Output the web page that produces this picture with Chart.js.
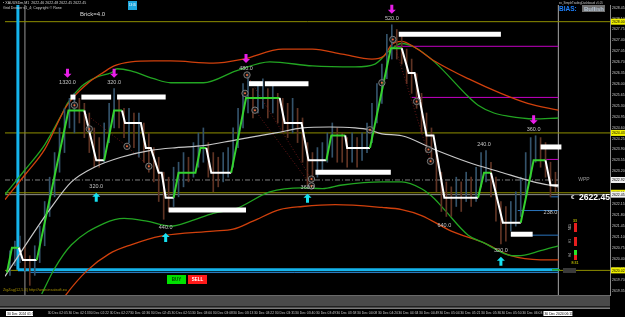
<!DOCTYPE html>
<html>
<head>
<meta charset="utf-8">
<script src="https://cdn.jsdelivr.net/npm/chart.js@4"></script>
<style>
  html, body { margin: 0; padding: 0; background: #000; }
</style>
</head>
<body>
<canvas id="myChart" width="625" height="317"></canvas>
<script>
  // ---- data (x = bar number, y = price) ----
  const priceTicks = [2628.45, 2628.10, 2627.75, 2627.40, 2627.05, 2626.70, 2626.35, 2626.00, 2625.65,
    2625.30, 2624.95, 2624.60, 2624.25, 2623.90, 2623.55, 2623.20, 2622.85, 2622.50, 2622.15,
    2621.80, 2621.45, 2621.10, 2620.75, 2620.40, 2620.05, 2619.70, 2619.35];

  const timeTickPos = [8.6, 12.8, 16.9, 21.1, 25.2, 29.4, 33.6, 37.7, 41.9, 46.0, 50.2, 54.4,
    58.5, 62.7, 66.8, 71.0, 75.2, 79.3, 83.5, 87.6, 91.8, 96.0, 100.1, 104.3];
  const timeLabels = ['30 Dec 02:05', '30 Dec 02:13', '30 Dec 02:22', '30 Dec 02:27', '30 Dec 02:36',
    '30 Dec 02:45', '30 Dec 02:51', '30 Dec 03:00', '30 Dec 03:08', '30 Dec 03:13', '30 Dec 03:22',
    '30 Dec 03:31', '30 Dec 03:40', '30 Dec 03:49', '30 Dec 03:58', '30 Dec 04:08', '30 Dec 04:20',
    '30 Dec 04:34', '30 Dec 04:49', '30 Dec 05:04', '30 Dec 05:21', '30 Dec 05:36', '30 Dec 05:50',
    '30 Dec 06:03'];

  const renkoX = [0.4, 1.4, 2.8, 3.6, 6.4, 12.8, 16, 18.4, 20, 22, 23.6, 24.2, 27.4, 28.4, 29.4, 31,
    31.6, 32.4, 34, 35, 38.4, 39.4, 40.6, 41.6, 45.6, 48.6, 55.4, 56.4, 59.8, 61.2, 64.8, 65.8, 68.6,
    69, 73.6, 77.8, 80, 81.4, 82.6, 85, 86.4, 88.6, 95.4, 96.6, 98, 100.4, 104, 106.6, 109, 110, 111.6];
  const renkoY = [2619.95, 2620.75, 2620.75, 2620.35, 2620.35, 2625.15, 2625.15, 2623.55, 2623.55,
    2625.15, 2625.15, 2624.75, 2624.75, 2623.95, 2623.95, 2623.15, 2623.15, 2622.35, 2622.35, 2623.15,
    2623.15, 2623.95, 2623.95, 2623.15, 2623.15, 2625.55, 2625.55, 2624.75, 2624.75, 2623.55, 2623.55,
    2624.35, 2624.35, 2623.95, 2623.95, 2627.15, 2627.15, 2626.35, 2626.35, 2624.35, 2624.35, 2622.35,
    2622.35, 2623.15, 2623.15, 2621.55, 2621.55, 2623.55, 2623.55, 2622.75, 2622.75];

  const candleHigh = [2620.65, 2620.96, 2621.12, 2620.81, 2620.49, 2620.81, 2621.44, 2622.23, 2623.01, 2623.80,
    2624.59, 2625.22, 2625.54, 2625.70, 2625.54, 2625.38, 2625.07, 2624.59, 2624.28, 2624.75,
    2625.38, 2625.85, 2625.54, 2625.22, 2625.22, 2625.07, 2625.07, 2624.75, 2624.43, 2623.96,
    2623.65, 2623.17, 2623.01, 2623.33, 2623.49, 2623.80, 2623.65, 2624.12, 2624.43, 2624.59,
    2624.12, 2623.80, 2623.65, 2623.80, 2623.96, 2624.59, 2625.22, 2626.01, 2626.33, 2625.85,
    2626.01, 2626.17, 2625.85, 2626.01, 2625.70, 2625.54, 2625.38, 2625.54, 2625.22, 2624.91,
    2624.12, 2623.80, 2623.96, 2624.12, 2624.43, 2624.75, 2624.59, 2624.43, 2624.28, 2624.43,
    2624.28, 2624.43, 2624.75, 2625.38, 2626.01, 2626.64, 2627.59, 2627.90, 2627.75, 2627.59,
    2627.12, 2626.80, 2626.33, 2625.70, 2625.07, 2624.59, 2623.80, 2623.17, 2622.86, 2622.70,
    2623.01, 2622.86, 2623.17, 2623.01, 2623.33, 2623.80, 2623.86, 2623.49, 2623.01, 2622.23,
    2622.07, 2622.23, 2622.54, 2623.01, 2623.80, 2624.28, 2624.34, 2624.28, 2624.12, 2623.49,
    2623.17];
  const candleLow = [2619.86, 2620.17, 2620.27, 2620.02, 2619.54, 2619.86, 2620.27, 2620.81, 2621.75, 2622.38,
    2623.17, 2623.80, 2624.59, 2624.43, 2624.75, 2624.28, 2623.80, 2623.33, 2623.33, 2623.49,
    2624.12, 2624.59, 2624.59, 2624.28, 2624.12, 2623.96, 2623.65, 2623.49, 2623.17, 2622.86,
    2622.23, 2621.66, 2621.91, 2622.07, 2622.38, 2622.70, 2622.86, 2623.01, 2623.33, 2623.49,
    2623.01, 2622.54, 2622.70, 2622.86, 2623.01, 2623.33, 2623.96, 2624.59, 2625.07, 2624.91,
    2625.07, 2625.22, 2624.91, 2625.07, 2624.75, 2624.43, 2624.28, 2624.43, 2624.12, 2623.49,
    2622.76, 2622.86, 2623.01, 2623.17, 2623.49, 2623.65, 2623.49, 2623.49, 2623.33, 2623.49,
    2623.33, 2623.55, 2623.80, 2624.12, 2624.75, 2625.38, 2626.17, 2626.80, 2626.80, 2626.64,
    2626.01, 2625.70, 2625.22, 2624.43, 2623.80, 2623.49, 2622.54, 2621.91, 2621.75, 2621.75,
    2622.07, 2621.91, 2622.23, 2622.07, 2622.23, 2622.70, 2622.86, 2622.38, 2621.60, 2620.87,
    2620.96, 2621.28, 2621.44, 2621.75, 2622.38, 2623.01, 2623.49, 2623.33, 2623.01, 2622.38,
    2622.54];

  const upperRedX = [0, 4, 8, 12.4, 16.6, 20, 22, 25.4, 30, 33.4, 42, 48, 56, 62, 68, 74, 76.4, 78, 80,
    82.6, 86.6, 93.4, 100, 105.4, 111.6];
  const upperRedY = [2622.29, 2623.08, 2623.90, 2625.29, 2626.01, 2626.39, 2626.58, 2626.71, 2626.74,
    2626.74, 2626.67, 2626.80, 2627.12, 2627.12, 2626.96, 2626.80, 2626.90, 2627.27, 2627.37, 2627.18,
    2626.74, 2626.17, 2625.70, 2625.38, 2625.16];
  const upperGreenX = [0, 4, 8, 11.6, 12.6, 15.4, 18.6, 21.4, 22.6, 25.4, 30, 33.4, 40, 46.6, 53.4, 62,
    70.6, 74.6, 77.4, 80, 82.6, 86.6, 93.4, 95.4, 98.6, 101.4, 106.6, 111.6];
  const upperGreenY = [2622.45, 2623.24, 2624.05, 2625.07, 2625.38, 2625.92, 2626.23, 2626.36, 2626.49,
    2626.42, 2626.17, 2626.04, 2626.04, 2626.42, 2626.71, 2626.58, 2626.55, 2626.64, 2627.05, 2627.30,
    2627.18, 2626.71, 2625.60, 2625.32, 2625.07, 2624.97, 2624.88, 2624.91];
  const lowerGreenX = [7.4, 10, 13.4, 20, 24, 28.6, 33.4, 37.4, 42, 46.6, 53.4, 60, 64, 68, 76, 80, 84,
    86.6, 88.6, 93.4, 96.6, 101.4, 103.4, 108, 111.6];
  const lowerGreenY = [2619.26, 2620.08, 2620.84, 2621.53, 2621.69, 2621.60, 2621.44, 2621.60, 2621.85,
    2622.00, 2622.54, 2622.67, 2622.64, 2622.76, 2622.86, 2622.86, 2622.64, 2622.32, 2621.97, 2621.15,
    2620.90, 2620.52, 2620.49, 2620.65, 2620.81];
  const lowerRedX = [11.6, 12.4, 16.6, 21, 25.4, 31.4, 42, 46, 50, 55.4, 60, 66.6, 76, 80, 84, 90, 96.6,
    102, 108, 111.6];
  const lowerRedY = [2619.07, 2619.26, 2620.02, 2620.55, 2620.84, 2621.12, 2621.28, 2621.34, 2621.60,
    2621.97, 2622.07, 2622.13, 2622.04, 2621.97, 2621.78, 2621.28, 2620.90, 2620.49, 2620.36, 2620.36];
  const maX = [0, 9, 13.4, 18, 23.4, 29.4, 34.6, 40, 46.6, 54.6, 60, 65.4, 70.6, 73.4, 76, 80, 86.6,
    93.4, 100, 106.6, 111.6];
  const maY = [2619.83, 2621.97, 2622.86, 2623.33, 2623.65, 2623.87, 2623.96, 2624.02, 2624.21, 2624.43,
    2624.59, 2624.62, 2624.59, 2624.53, 2624.40, 2624.34, 2623.90, 2623.49, 2623.17, 2622.86, 2622.70];

  const oliveLevels = [2628.00, 2624.43, 2622.51, 2620.02];
  const bidPrice = 2622.45;
  const wppPrice = 2622.92;
  const cyanLevel = 2620.04;
  const blueLevel = 2619.95;
  const magentaLevels = [2627.21, 2625.57, 2623.58];
  const magentaFrom = [78.4, 82, 108.6];
  const blueShortLevels = [2621.94, 2621.15, 2622.38];
  const blueShortFrom = [103.4, 102, 110];
  const lastBar = 111.6;
  const cyanVerticalBar = 2.6;
  const greyVerticalBar = 4;

  const boxFrom = [13.2, 15.4, 22.6, 49.2, 52.4, 79.4, 33, 62.6, 108, 102];
  const boxTo = [14.2, 21.4, 32.4, 52, 61.2, 100, 48.6, 77.8, 112.2, 106.4];
  const boxPrice = [2625.58, 2625.58, 2625.58, 2626.01, 2626.01, 2627.60, 2621.96, 2623.17, 2623.98, 2621.18];

  const downArrowX = [12.6, 22, 48.6, 78, 106.6];
  const downArrowY = [2626.33, 2626.33, 2626.80, 2628.38, 2624.84];
  const downLabels = ['1320.0', '320.0', '480.0', '520.0', '360.0'];
  const upArrowX = [18.4, 32.4, 61, 100];
  const upArrowY = [2622.38, 2621.09, 2622.35, 2620.33];
  const upLabels = ['320.0', '440.0', '360.0', '320.0'];
  const extraLabelX = [96.6, 88.6, 110];
  const extraLabelY = [2624.05, 2621.47, 2621.88];
  const extraLabels = ['240.0', '640.0', '238.0'];

  const circleX = [14, 17, 24.6, 29, 48.8, 48.4, 50.4, 76, 78.2, 61.8, 61.8, 73.6, 83, 85.4, 85.8];
  const circleY = [2625.32, 2624.56, 2624.00, 2623.36, 2626.29, 2625.70, 2625.16, 2626.04, 2627.43,
    2622.95, 2622.73, 2624.53, 2625.44, 2623.90, 2623.52];

  const dotX = [14, 24.6, 29, 29, 48.8, 61.8, 61.8, 50.4, 61.8, 61.8, 78.2, 85.8];
  const dotY = [2625.32, 2624.00, 2623.36, null, 2626.29, 2622.95, null, 2625.16, 2622.73, null, 2627.43, 2623.52];

  // ---- helpers ----
  const GREEN = '#35d22f', WHITE = '#ffffff';
  const pts = (xs, ys) => xs.map((x, i) => ({ x: x, y: ys[i] }));

  function hline(p, x0, x1, color, width, dash, order) {
    return { type: 'line', data: [{ x: x0, y: p }, { x: x1, y: p }], borderColor: color,
      borderWidth: width, borderDash: dash || [], pointRadius: 0, order: order };
  }

  function renkoColor(i) {
    for (let k = i; k > 0; k--) {
      if (renkoY[k] > renkoY[k - 1]) return GREEN;
      if (renkoY[k] < renkoY[k - 1]) return WHITE;
    }
    return GREEN;
  }

  const datasets = [];
  oliveLevels.forEach(p => datasets.push(hline(p, 0, 122, '#8f8f00', 1, [], 30)));
  datasets.push(hline(bidPrice, 0, 122, '#8f8f8f', 1, [], 30));
  datasets.push(hline(wppPrice, 0, lastBar, '#808080', 1, [5, 2, 1, 2], 30));
  datasets.push(hline(cyanLevel, cyanVerticalBar, lastBar, '#14b4ec', 3, [], 29));
  datasets.push(hline(blueLevel, 5, lastBar, '#2a7fc8', 1, [], 29));
  magentaLevels.forEach((p, i) => datasets.push(hline(p, magentaFrom[i], lastBar, '#c400c4', 1, [], 28)));
  blueShortLevels.forEach((p, i) => datasets.push(hline(p, blueShortFrom[i], lastBar, '#2a74bc', 1, [], 28)));
  datasets.push({ type: 'line', data: [{ x: cyanVerticalBar, y: 2629 }, { x: cyanVerticalBar, y: cyanLevel }],
    borderColor: '#14b4ec', borderWidth: 3, pointRadius: 0, order: 29 });
  datasets.push({ type: 'line', data: [{ x: greyVerticalBar, y: 2629 }, { x: greyVerticalBar, y: 2619 }],
    borderColor: '#5c5c5c', borderWidth: 1, pointRadius: 0, order: 30 });
  datasets.push({ type: 'line', data: [{ x: lastBar, y: 2629 }, { x: lastBar, y: 2619 }],
    borderColor: '#8c8c8c', borderWidth: 1, pointRadius: 0, order: 30 });

  const band = (xs, ys, color) => ({ type: 'line', data: pts(xs, ys), borderColor: color, borderWidth: 1.3,
    pointRadius: 0, cubicInterpolationMode: 'monotone', order: 20 });
  datasets.push(band(upperRedX, upperRedY, '#d0400c'));
  datasets.push(band(upperGreenX, upperGreenY, '#22a522'));
  datasets.push(band(lowerGreenX, lowerGreenY, '#22a522'));
  datasets.push(band(lowerRedX, lowerRedY, '#d0400c'));

  datasets.push({ type: 'bar', data: candleHigh.map((h, i) => ({ x: i + 1, y: [candleLow[i], h] })),
    barThickness: 1, grouped: false, borderWidth: 0, order: 18,
    backgroundColor: c => (c.dataIndex > 0 && candleHigh[c.dataIndex] < candleHigh[c.dataIndex - 1]) ? '#603424' : '#34536b' });

  datasets.push({ type: 'line', data: pts(dotX, dotY), borderColor: '#6a1818', borderWidth: 1,
    borderDash: [1, 2], pointRadius: 0, spanGaps: false, order: 16 });

  datasets.push({ type: 'line', data: pts(maX, maY), borderColor: '#c8c8c8', borderWidth: 1.2,
    pointRadius: 0, cubicInterpolationMode: 'monotone', order: 15 });

  datasets.push({ type: 'line', data: pts(renkoX, renkoY), borderWidth: 2, pointRadius: 0,
    borderColor: GREEN, segment: { borderColor: c => renkoColor(c.p1DataIndex) }, order: 6 });

  boxFrom.forEach((x0, i) => datasets.push({ type: 'line',
    data: [{ x: x0, y: boxPrice[i] }, { x: boxTo[i], y: boxPrice[i] }],
    borderColor: '#ffffff', borderWidth: 5, borderCapStyle: 'butt', pointRadius: 0, order: 4 }));

  datasets.push({ type: 'line', data: pts(circleX, circleY), showLine: false, pointRadius: 3.2,
    pointBorderWidth: 1, pointBorderColor: '#7a7a7a', pointBackgroundColor: 'rgba(30,30,30,0.6)', order: 3 });
  datasets.push({ type: 'line', data: pts(circleX, circleY), showLine: false, pointRadius: 1,
    pointBorderWidth: 0, pointBackgroundColor: '#f06a3c', order: 2 });

  // ---- drawing of the terminal decorations ----
  function arrow(ctx, x, y, dir, color) {
    // (x, y) is the arrow centre, dir 1 = pointing down, -1 = pointing up
    const t = y + 4 * dir;
    ctx.fillStyle = color;
    ctx.beginPath();
    ctx.moveTo(x, t);
    ctx.lineTo(x - 4, t - 4 * dir);
    ctx.lineTo(x - 1.5, t - 4 * dir);
    ctx.lineTo(x - 1.5, t - 9 * dir);
    ctx.lineTo(x + 1.5, t - 9 * dir);
    ctx.lineTo(x + 1.5, t - 4 * dir);
    ctx.lineTo(x + 4, t - 4 * dir);
    ctx.closePath();
    ctx.fill();
  }

  function text(ctx, s, x, y, font, color, align) {
    ctx.font = font;
    ctx.fillStyle = color;
    ctx.textAlign = align || 'left';
    ctx.textBaseline = 'middle';
    ctx.fillText(s, x, y);
  }

  const FONT = '"Liberation Sans", Arial, sans-serif';

  const terminal = {
    id: 'terminal',
    beforeDraw(chart) {
      const c = chart.ctx;
      c.save();
      c.fillStyle = '#000';
      c.fillRect(0, 0, chart.width, chart.height);
      c.restore();
    },
    afterDraw(chart) {
      const c = chart.ctx, xs = chart.scales.x, ys = chart.scales.y;
      const X = v => xs.getPixelForValue(v), Y = v => ys.getPixelForValue(v);
      c.save();

      // grey strip under the price area
      const top = xs.top;
      c.fillStyle = '#4a4a4a';
      c.fillRect(0, top, xs.right, 14);
      c.fillStyle = '#6a6a6a'; c.fillRect(0, top, xs.right, 1);
      c.fillStyle = '#202020'; c.fillRect(0, top + 11, xs.right, 1);
      c.fillStyle = '#7a7a7a'; c.fillRect(0, top + 13, xs.right, 1);

      // highlighted time labels
      c.fillStyle = '#ffffff';
      c.fillRect(6, top + 16, 27, 5);
      text(c, '30 Dec 2024 01:51', 7, top + 18.6, '3.4px ' + FONT, '#000');
      c.fillStyle = '#ffffff';
      c.fillRect(X(lastBar) - 15, top + 16, 29, 5);
      text(c, '30 Dec 2024 06:11', X(lastBar) - 14, top + 18.6, '3.4px ' + FONT, '#000');

      // zigzag arrows and values
      downArrowX.forEach((b, i) => {
        const x = X(b), y = Y(downArrowY[i]);
        arrow(c, x, y, 1, '#e81ee8');
        text(c, downLabels[i], x, y + 9, '5.5px ' + FONT, '#c4c4c4', 'center');
      });
      upArrowX.forEach((b, i) => {
        const x = X(b), y = Y(upArrowY[i]);
        arrow(c, x, y, -1, '#16e0f0');
        text(c, upLabels[i], x, y - 10, '5.5px ' + FONT, '#c4c4c4', 'center');
      });
      extraLabelX.forEach((b, i) => {
        text(c, extraLabels[i], X(b), Y(extraLabelY[i]), '5.5px ' + FONT, '#c4c4c4', 'center');
      });

      // price axis markers
      const right = ys.left + 1;
      oliveLevels.forEach(p => {
        const y = Y(p);
        c.fillStyle = '#f0f000';
        c.fillRect(right, y - 3, 14, 6);
        text(c, p.toFixed(2), right + 1, y + 0.3, '3.5px ' + FONT, '#000');
      });
      [wppPrice, bidPrice].forEach(p => {
        const y = Y(p);
        c.fillStyle = '#f0f0f0';
        c.fillRect(right, y - 3, 14, 6);
        text(c, p.toFixed(2), right + 1, y + 0.3, '3.5px ' + FONT, '#000');
      });
      text(c, 'WPP', 584, Y(wppPrice), '5px ' + FONT, '#9a9a9a', 'center');

      // header texts
      text(c, '\u25aa XAUUSDm,M1  2622.46 2622.48 2622.45 2622.45', 3, 3, '3.6px ' + FONT, '#d0d0d0');
      text(c, 'Grid Drawer v1_4; Copyright \u00a9 Rone', 3, 8, '3.6px ' + FONT, '#d0d0d0');
      text(c, 'Brick=4.0', 80, 14, '6px ' + FONT, '#d8d8d8');
      c.fillStyle = '#1ea6dc';
      c.fillRect(128, 1, 9, 9);
      text(c, '13:05', 132.5, 5.5, '2.8px ' + FONT, '#fff', 'center');

      // dashboard (top right)
      text(c, 'ex_SimpleTradingDashboard v1.05', 559, 3, '2.8px ' + FONT, '#c8c8c8');
      text(c, 'BIAS: ', 559, 9, 'bold 6.5px ' + FONT, '#1e82ff');
      c.fillStyle = '#707070';
      c.fillRect(582, 5, 23, 7);
      text(c, 'Bullish', 584, 9, 'bold 6px ' + FONT, '#b8c8d8');

      // current price
      text(c, '\u20ac', 571, 197, 'bold 6px ' + FONT, '#e0e0e0');
      text(c, '2622.45', 579, 198, 'bold 8.6px ' + FONT, '#ffffff');

      // small signal columns
      text(c, '33', 575, 221, '3.5px ' + FONT, '#e6e600', 'center');
      c.fillStyle = '#e61e1e'; c.fillRect(574, 223, 3, 9);
      c.fillStyle = '#e61e1e'; c.fillRect(574, 237, 3, 9);
      c.fillStyle = '#28e628'; c.fillRect(574, 250, 3, 5);
      c.fillStyle = '#e61e1e'; c.fillRect(574, 255, 3, 5);
      text(c, '8:31', 575, 263, '3.5px ' + FONT, '#e6e600', 'center');
      [['M15', 227], ['H1', 241], ['H4', 255]].forEach(([s, y]) => {
        c.save();
        c.translate(570, y);
        c.rotate(-Math.PI / 2);
        text(c, s, 0, 0, '3.2px ' + FONT, '#bdbdbd', 'center');
        c.restore();
      });
      c.fillStyle = '#3a3a3a'; c.fillRect(563, 268, 13, 5);
      c.fillStyle = '#22a522'; c.fillRect(552, 269, 8, 1.5);

      // buttons and footer text
      c.fillStyle = '#00e000'; c.fillRect(167, 275, 19, 9);
      text(c, 'BUY', 176.5, 279.7, 'bold 4.5px ' + FONT, '#064006', 'center');
      c.fillStyle = '#ff1a1a'; c.fillRect(188, 275, 19, 9);
      text(c, 'SELL', 197.5, 279.7, 'bold 4.5px ' + FONT, '#ffffff', 'center');
      text(c, 'ZigZag(12,5,3) http://www.insatsoft.eu', 3, 290, '3.8px ' + FONT, '#a89000');

      c.restore();
    }
  };

  const ctx = document.getElementById('myChart');

  new Chart(ctx, {
    type: 'line',
    data: { datasets: datasets },
    options: {
      responsive: false,
      animation: false,
      layout: { padding: 0 },
      plugins: { legend: { display: false }, tooltip: { enabled: false } },
      scales: {
        x: {
          type: 'linear',
          min: 0,
          max: 122,
          offset: false,
          grid: { display: false, drawTicks: false },
          border: { display: false },
          afterBuildTicks: s => { s.ticks = timeTickPos.map(v => ({ value: v })); },
          afterFit: s => { s.height = 22; s.paddingLeft = 0; s.paddingRight = 0; },
          ticks: {
            autoSkip: false,
            maxRotation: 0,
            minRotation: 0,
            align: 'start',
            padding: 16,
            color: '#c8c8c8',
            font: { size: 3.4, family: 'Liberation Sans' },
            callback: (v, i) => timeLabels[i]
          }
        },
        y: {
          position: 'right',
          min: 2619.23,
          max: 2628.535,
          grid: { display: false, drawTicks: false },
          border: { display: true, color: '#8a8a8a' },
          afterBuildTicks: s => { s.ticks = priceTicks.map(v => ({ value: v })); },
          afterFit: s => { s.width = 15; s.paddingTop = 0; s.paddingBottom = 0; },
          ticks: {
            autoSkip: false,
            padding: 2,
            color: '#c8c8c8',
            font: { size: 3.5, family: 'Liberation Sans' },
            callback: v => Number(v).toFixed(2)
          }
        }
      }
    },
    plugins: [terminal]
  });
</script>
</body>
</html>
